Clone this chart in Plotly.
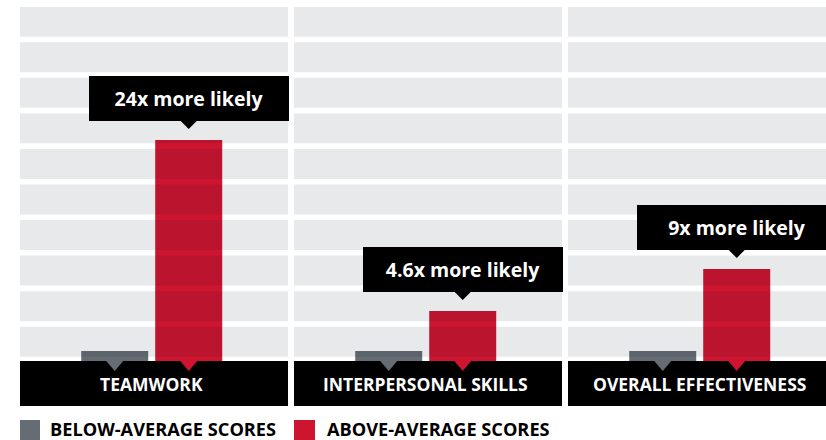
import plotly.graph_objects as go

# ---------------- data ----------------
categories = ["TEAMWORK", "INTERPERSONAL SKILLS", "OVERALL EFFECTIVENESS"]
series_names = ["BELOW-AVERAGE SCORES", "ABOVE-AVERAGE SCORES"]
below_values = [1.0, 1.0, 1.0]
above_values = [22.1, 5.0, 9.2]
callout_labels = ["24x more likely", "4.6x more likely", "9x more likely"]

# ---------------- style / layout ----------------
W, H = 826, 440
GREY = "#656c73"
RED = "#cd1530"
BAND = "rgba(0,11,33,0.09)"
FONT = "Open Sans"

def px_x(p):
    return p / W

def px_y(p):
    return 1 - p / H

panel_left = [20, 294, 568]
panel_width = 268
unit_px = 74.0          # pixels per category step
left_off = 1.28         # category units between panel left edge and first bar
bar_w = 67 / unit_px
y_top_px, zero_px, foot_px = 7, 361, 406
ppu = 10.0              # pixels per value unit
y_range = [-(foot_px - zero_px) / ppu, (zero_px - y_top_px) / ppu]
band_step = 35.56 / ppu
band_gap = 5.6 / ppu
grid0 = 1.5 / ppu
callout_gap_px = 19
tri_half = 8.5 / unit_px

fig = go.Figure()
shapes = []
annotations = []
layout_axes = {}

for i, cat in enumerate(categories):
    sfx = "" if i == 0 else str(i + 1)
    xa, ya = "x" + sfx, "y" + sfx
    left = panel_left[i]
    right = min(W, left + panel_width)
    layout_axes["xaxis" + sfx] = dict(
        domain=[px_x(left), px_x(right)],
        type="category", categoryorder="array", categoryarray=series_names,
        range=[-left_off, -left_off + (right - left) / unit_px],
        showticklabels=False, showgrid=False, zeroline=False, showline=False,
        ticks="", anchor=ya, fixedrange=True,
    )
    layout_axes["yaxis" + sfx] = dict(
        domain=[px_y(foot_px), px_y(y_top_px)], range=y_range,
        showticklabels=False, showgrid=False, zeroline=False, showline=False,
        ticks="", anchor=xa, fixedrange=True,
    )
    vals = [below_values[i], above_values[i]]
    cols = [GREY, RED]
    for j, name in enumerate(series_names):
        fig.add_trace(go.Bar(
            x=[name], y=[vals[j]], width=bar_w, marker=dict(color=cols[j], line=dict(width=0)),
            name=name, showlegend=False, xaxis=xa, yaxis=ya, hoverinfo="skip",
        ))

    # background bands (drawn above bars as a light overlay)
    for k in range(10):
        y0 = grid0 + k * band_step + band_gap / 2
        y1 = grid0 + (k + 1) * band_step - band_gap / 2 if k < 9 else y_range[1]
        shapes.append(dict(type="rect", xref=xa + " domain", yref=ya, x0=0, x1=1,
                           y0=y0, y1=y1, fillcolor=BAND, line=dict(width=0), layer="above"))
    # footer
    shapes.append(dict(type="rect", xref=xa + " domain", yref=ya, x0=0, x1=1,
                       y0=y_range[0], y1=0, fillcolor="black", line=dict(width=0), layer="above"))
    # pointers from bars into footer
    for j in range(2):
        c = series_names.index(series_names[j])
        path = "M {a},{b} L {c2},{b} L {m},{t} Z".format(
            a=c - tri_half, c2=c + tri_half, m=c, b=0, t=-10 / ppu)
        shapes.append(dict(type="path", path=path, xref=xa, yref=ya,
                           fillcolor=cols[j], line=dict(width=0), layer="above"))
    # callout pointer
    c = series_names.index(series_names[1])
    yb = above_values[i] + callout_gap_px / ppu
    path = "M {a},{b} L {c2},{b} L {m},{t} Z".format(
        a=c - tri_half, c2=c + tri_half, m=c, b=yb + 0.05, t=yb - 8 / ppu)
    shapes.append(dict(type="path", path=path, xref=xa, yref=ya,
                       fillcolor="black", line=dict(width=0), layer="above"))

    annotations.append(dict(
        x=series_names[1], y=above_values[i], xref=xa, yref=ya,
        xanchor="center", yanchor="bottom", yshift=callout_gap_px,
        text="<b>%s</b>" % callout_labels[i], showarrow=False,
        font=dict(family=FONT, size=19.5, color="white"),
        bgcolor="black", width=200, height=45, borderpad=0, borderwidth=0,
        align="center", valign="middle",
    ))
    annotations.append(dict(
        x=0.5, y=-(383.5 - zero_px) / ppu, xref=xa, yref=ya,
        xanchor="center", yanchor="middle",
        text="<b>%s</b>" % cat, showarrow=False,
        font=dict(family=FONT, size=17.5, color="white"),
    ))

# legend
legend_items = [(20, 40, 48), (294, 315, 325)]
for j, (x0, x1, tx) in enumerate(legend_items):
    shapes.append(dict(type="rect", xref="paper", yref="paper",
                       x0=px_x(x0), x1=px_x(x1), y0=px_y(440), y1=px_y(420),
                       fillcolor=[GREY, RED][j], line=dict(width=0)))
    annotations.append(dict(
        x=px_x(tx), y=px_y(429), xref="paper", yref="paper",
        xanchor="left", yanchor="middle", text="<b>%s</b>" % series_names[j],
        showarrow=False, font=dict(family=FONT, size=18.2, color="black"),
    ))

fig.update_layout(
    width=W, height=H, margin=dict(l=0, r=0, t=0, b=0),
    paper_bgcolor="white", plot_bgcolor="rgba(0,0,0,0)",
    barmode="overlay", showlegend=False,
    shapes=shapes, annotations=annotations,
    font=dict(family=FONT),
    **layout_axes,
)

fig.write_html("out.html", config={"displayModeBar": False})
